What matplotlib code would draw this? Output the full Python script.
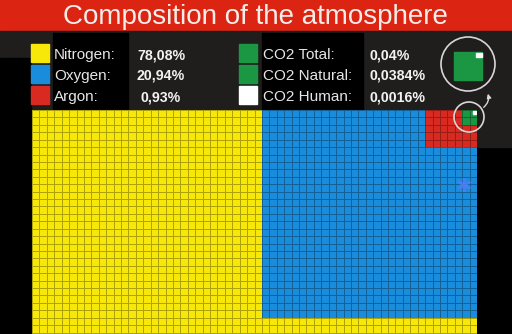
import numpy as np
import matplotlib
matplotlib.use("Agg")
import matplotlib.pyplot as plt
from matplotlib.colors import ListedColormap
from matplotlib.patches import Rectangle, Circle, FancyArrowPatch

# data
gases = ["Nitrogen", "Oxygen", "Argon"]
gas_pct = [78.08, 20.94, 0.93]
co2_labels = ["CO2 Total", "CO2 Natural", "CO2 Human"]
co2_pct = [0.04, 0.0384, 0.0016]
title = "Composition of the atmosphere"

# colours
c_yellow = "#f8e80a"
c_blue = "#1a8cdc"
c_red = "#d92a22"
c_green = "#1b9744"
c_panel = "#201d1d"

plt.rcParams["font.family"] = ["Liberation Sans", "DejaVu Sans"]

W, H = 512, 334
fig = plt.figure(figsize=(W / 100, H / 100), dpi=100, facecolor="black")

# background panels (pixel coords)
bg = fig.add_axes([0, 0, 1, 1], zorder=0)
bg.set_xlim(0, W)
bg.set_ylim(H, 0)
bg.axis("off")
bg.add_patch(Rectangle((0, 0), W, 31, color="#dc2412"))
bg.add_patch(Rectangle((0, 31), W, 79, color=c_panel))
bg.add_patch(Rectangle((477, 110), W - 477, 37, color=c_panel))
bg.add_patch(Rectangle((0, 58), 31, H - 58, color="black"))
bg.add_patch(Rectangle((53, 33), 75, 77, color="black"))
bg.add_patch(Rectangle((262, 33), 101, 77, color="black"))

# waffle grid, 60 x 60 cells
ncol = 60
total = ncol * ncol
cells = [p / 100 * total for p in gas_pct]
co2_cells = co2_pct[0] / 100 * total
block_w = 29
block_h = int(np.ceil((cells[1] + cells[2] + co2_cells) / block_w))
ar_w = 7
ar_h = int(round((cells[2] + co2_cells) / ar_w))
co2_side = int(np.ceil(np.sqrt(co2_cells)))

M = np.zeros((ncol, ncol))
M[:block_h, ncol - block_w:] = 1
M[:ar_h, ncol - ar_w:] = 2
M[:co2_side, ncol - co2_side:] = 3

cell_px = 445 / ncol
vis_rows = (H - 110) / cell_px
ax = fig.add_axes([32 / W, 0, 445 / W, (H - 110) / H], zorder=1)
cmap = ListedColormap([c_yellow, c_blue, c_red, c_green])
ax.pcolormesh(np.arange(ncol + 1), np.arange(ncol + 1), M, cmap=cmap,
              vmin=-0.5, vmax=3.5, edgecolors=(0, 0, 0, 0.3), linewidth=0.6)
hs = co2_side * np.sqrt(co2_pct[2] / co2_pct[0])
ax.add_patch(Rectangle((ncol - hs - 0.1, 0.1), hs, hs, color="white", zorder=3))
ax.set_xlim(0, ncol)
ax.set_ylim(vis_rows, 0)
ax.axis("off")

# overlay: legend, magnifier
ov = fig.add_axes([0, 0, 1, 1], zorder=2)
ov.set_xlim(0, W)
ov.set_ylim(H, 0)
ov.axis("off")
ov.patch.set_alpha(0)

ov.text(255, 23.5, title, color="#f6ece8", fontsize=20, ha="center", va="baseline")

sq_cols = [c_yellow, c_blue, c_red]
for i, (name, p) in enumerate(zip(gases, gas_pct)):
    y = 44 + i * 21
    ov.add_patch(Rectangle((31, y), 18, 18, color=sq_cols[i]))
    ov.text(54, y + 15, name + ":", color="#e6e6e6", fontsize=11, va="baseline")
    ov.text(161, y + 15, f"{p:g}".replace(".", ",") + "%", color="#f2f2f2",
            fontsize=10.2, fontweight="bold", ha="center", va="baseline")

co2_cols = [c_green, c_green, "white"]
for i, (name, p) in enumerate(zip(co2_labels, co2_pct)):
    y = 44 + i * 21
    ov.add_patch(Rectangle((239, y), 18, 18, color=co2_cols[i]))
    ov.text(263, y + 15, name + ":", color="#e6e6e6", fontsize=11, va="baseline")
    ov.text(369, y + 15, f"{p:g}".replace(".", ",") + "%", color="#f2f2f2",
            fontsize=10.2, fontweight="bold", ha="left", va="baseline")

# magnified CO2 square
big = 28
ov.add_patch(Rectangle((468 - big / 2, 66 - big / 2), big, big, color=c_green))
ws = big * np.sqrt(co2_pct[2] / co2_pct[0])
ov.add_patch(Rectangle((468 + big / 2 - ws - 0.5, 66 - big / 2 + 0.5), ws, ws * 0.8, color="white"))
ov.add_patch(Circle((468, 64), 27, fill=False, ec="#d8d8d8", lw=1.2))
ov.add_patch(Circle((469, 117), 15, fill=False, ec="#d8d8d8", lw=1.2))
ov.add_patch(FancyArrowPatch((481.5, 109), (487, 91), arrowstyle="-|>", mutation_scale=6,
                             connectionstyle="arc3,rad=0.4", color="#d8d8d8", lw=1))

ov.text(464, 186, "\u2731", color="#4a7ff5", alpha=0.9, fontsize=14, family="DejaVu Sans",
        ha="center", va="center")

fig.savefig("out.png", dpi=100, facecolor="black")
